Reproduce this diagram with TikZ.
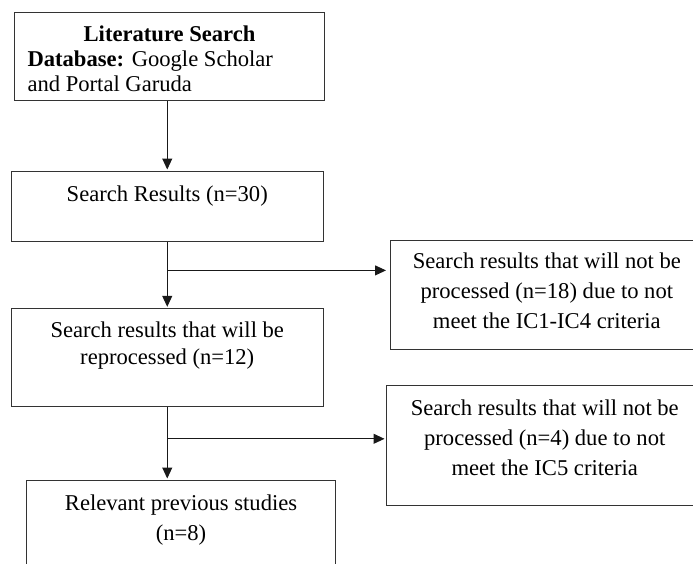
\documentclass[tikz,border=0pt]{standalone}
\usepackage{fontspec}
\setmainfont{Liberation Serif}
\usetikzlibrary{arrows.meta}
\newcommand\boxcontent[5]{\parbox[c][#1][t]{#2}{\fontsize{22.6pt}{#3}\selectfont\centering\rule{0pt}{#4}#5\par}}
\begin{document}
\begin{tikzpicture}[x=1pt,y=-1pt,
  box/.style={draw=black!80, line width=1.1pt, inner sep=0pt, anchor=north west},
  conn/.style={draw=black!90, line width=1pt},
  arr/.style={conn, -{Triangle[length=11pt,width=10pt]}, shorten >=1.5pt}]
\useasboundingbox (0,0) rectangle (693,563);
\clip (0,0) rectangle (693,563);

\node[box] (b1) at (14,12) {\parbox[c][88pt][t]{310pt}{\fontsize{22.6pt}{25pt}\selectfont
  \centering\rule{0pt}{28.7pt}\textbf{Literature Search}\par
  \raggedright\leftskip=13pt \textbf{Database:} Google Scholar\\ and Portal Garuda\par}};

\node[box] (b2) at (10.7,171) {\boxcontent{69.7pt}{312pt}{30pt}{29.7pt}{Search Results (n=30)}};

\node[box] (b3) at (10.7,308.3) {\boxcontent{97.7pt}{312pt}{27pt}{28.4pt}{Search results that will be\\ reprocessed (n=12)}};

\node[box] (b4) at (26,480) {\boxcontent{100pt}{309pt}{29.5pt}{30pt}{Relevant previous studies\\ (n=8)}};

\node[box] (r1) at (390,240) {\boxcontent{109pt}{312.6pt}{30pt}{28pt}{Search results that will not be\\ processed (n=18) due to not\\ meet the IC1-IC4 criteria}};

\node[box] (r2) at (386,385) {\boxcontent{120pt}{316.4pt}{30pt}{30pt}{Search results that will not be\\ processed (n=4) due to not\\ meet the IC5 criteria}};

\draw[arr] (b2.north |- b1.south) -- (b2.north);

\path (b2.south) ++(0,28.6) coordinate (j1);
\draw[conn] (b2.south) -- (j1);
\draw[arr] (j1) -- (b3.north);
\draw[arr, shorten >=4pt] (j1) -- (j1 -| r1.west);

\path (b3.south) ++(0,31.7) coordinate (j2);
\draw[conn] (b3.south) -- (j2);
\draw[arr] (j2) -- (j2 |- b4.north);
\draw[arr] (j2) -- (j2 -| r2.west);
\end{tikzpicture}
\end{document}
